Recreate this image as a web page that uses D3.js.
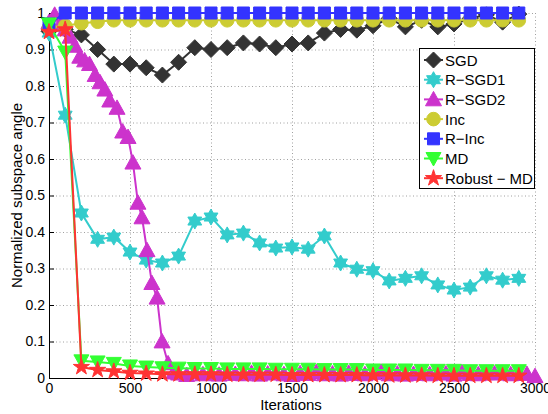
<!DOCTYPE html>
<html>
<head>
<meta charset="utf-8">
<script src="https://cdn.jsdelivr.net/npm/d3@7"></script>
<style>
  body { margin: 0; background: #fff; }
  svg text { font-family: "Liberation Sans", Arial, Helvetica, sans-serif; }
</style>
</head>
<body>
<div class="chart"></div>
<script>
// data
var iters = [0, 100, 200, 300, 400, 500, 600, 700, 800, 900, 1000, 1100, 1200, 1300, 1400,
             1500, 1600, 1700, 1800, 1900, 2000, 2100, 2200, 2300, 2400, 2500, 2600, 2700, 2800, 2900];

var sgd = [0.95, 0.955, 0.94, 0.90, 0.86, 0.86, 0.85, 0.83, 0.865, 0.905, 0.90, 0.905, 0.918, 0.915, 0.905,
           0.915, 0.918, 0.945, 0.955, 0.953, 0.965, 0.985, 0.962, 0.98, 0.962, 0.97, 0.985, 0.995, 0.975, 0.997];

var rsgd1 = [0.945, 0.72, 0.452, 0.38, 0.386, 0.345, 0.323, 0.315, 0.334, 0.43, 0.441, 0.392, 0.397, 0.37, 0.356,
             0.359, 0.353, 0.389, 0.315, 0.298, 0.294, 0.266, 0.273, 0.28, 0.255, 0.241, 0.249, 0.28, 0.268, 0.273];

var inc = [0.96, 0.965, 0.972, 0.976, 0.98, 0.98, 0.98, 0.98, 0.98, 0.98, 0.98, 0.98, 0.98, 0.98, 0.98,
           0.98, 0.98, 0.98, 0.98, 0.98, 0.98, 0.98, 0.98, 0.98, 0.98, 0.98, 0.98, 0.98, 0.98, 0.98];

var rinc = [0.97, 1, 1, 1, 1, 1, 1, 1, 1, 1, 1, 1, 1, 1, 1,
            1, 1, 1, 1, 1, 1, 1, 1, 1, 1, 1, 1, 1, 1, 1];

var md = [0.97, 0.893, 0.047, 0.044, 0.04, 0.033, 0.03, 0.028, 0.027, 0.026, 0.026, 0.025, 0.025, 0.025, 0.024,
          0.024, 0.024, 0.023, 0.023, 0.023, 0.022, 0.022, 0.022, 0.021, 0.021, 0.021, 0.02, 0.02, 0.02, 0.02];

var robustMd = [0.948, 0.955, 0.03, 0.022, 0.018, 0.014, 0.012, 0.01, 0.01, 0.01, 0.01, 0.009, 0.009, 0.009, 0.009,
                0.008, 0.008, 0.008, 0.008, 0.008, 0.007, 0.007, 0.007, 0.007, 0.006, 0.006, 0.006, 0.006, 0.006, 0.006];

// R-SGD2 is sampled more densely
var rsgd2Iters = [0, 35, 70, 100, 130, 160, 190, 220, 250, 285, 315, 345, 375, 420, 455, 488, 518, 549, 574,
                  605, 635, 667, 698, 735, 770,
                  800, 850, 900, 950, 1000, 1050, 1100, 1150, 1200, 1250, 1300, 1350, 1400, 1450, 1500,
                  1550, 1600, 1650, 1700, 1750, 1800, 1850, 1900, 1950, 2000, 2050, 2100, 2150, 2200,
                  2250, 2300, 2350, 2400, 2450, 2500, 2550, 2600, 2650, 2700, 2750, 2800, 2850, 2900,
                  2950, 3000];
var rsgd2 = [0.975, 0.995, 0.97, 0.955, 0.935, 0.91, 0.88, 0.87, 0.86, 0.83, 0.81, 0.79, 0.76, 0.74, 0.675,
             0.66, 0.59, 0.48, 0.44, 0.35, 0.26, 0.22, 0.10, 0.04, 0.015,
             0.012, 0.008, 0.015, 0.01, 0.013, 0.009, 0.016, 0.011, 0.01, 0.014, 0.009, 0.012, 0.015, 0.01, 0.008,
             0.013, 0.011, 0.016, 0.01, 0.012, 0.009, 0.014, 0.011, 0.01, 0.013, 0.017, 0.01, 0.012, 0.009,
             0.011, 0.014, 0.01, 0.013, 0.012, 0.009, 0.015, 0.011, 0.01, 0.013, 0.012, 0.014, 0.01, 0.012,
             0.011, 0.005];

var xTicks = [0, 500, 1000, 1500, 2000, 2500, 3000];
var yTicks = [0, 0.1, 0.2, 0.3, 0.4, 0.5, 0.6, 0.7, 0.8, 0.9, 1];
var seriesNames = ["SGD", "R\u2212SGD1", "R\u2212SGD2", "Inc", "R\u2212Inc", "MD", "Robust \u2212 MD"];

(function() {
    // custom marker shapes, matlab style
    function diamond(r) {
        return { draw: function(c) {
            c.moveTo(0, -r); c.lineTo(r, 0); c.lineTo(0, r); c.lineTo(-r, 0); c.closePath();
        }};
    }
    function square(h) {
        return { draw: function(c) { c.rect(-h, -h, 2 * h, 2 * h); } };
    }
    function circle(r) {
        return { draw: function(c) { c.moveTo(r, 0); c.arc(0, 0, r, 0, 2 * Math.PI); } };
    }
    function triangle(w, dir) {
        return { draw: function(c) {
            c.moveTo(0, -w * dir); c.lineTo(w, 0.8 * w * dir); c.lineTo(-w, 0.8 * w * dir); c.closePath();
        }};
    }
    function star(n, R, ratio) {
        return { draw: function(c) {
            for (var k = 0; k < 2 * n; k++) {
                var a = -Math.PI / 2 + k * Math.PI / n;
                var rr = k % 2 === 0 ? R : R * ratio;
                if (k === 0) c.moveTo(rr * Math.cos(a), rr * Math.sin(a));
                else c.lineTo(rr * Math.cos(a), rr * Math.sin(a));
            }
            c.closePath();
        }};
    }

    var series = [
        {name: seriesNames[0], x: iters, y: sgd, color: "#333333", shape: diamond(8)},
        {name: seriesNames[1], x: iters, y: rsgd1, color: "#33cccc", shape: star(6, 8, 0.577)},
        {name: seriesNames[2], x: rsgd2Iters, y: rsgd2, color: "#cc33cc", shape: triangle(8, 1)},
        {name: seriesNames[3], x: iters, y: inc, color: "#cccc33", shape: circle(6.8)},
        {name: seriesNames[4], x: iters, y: rinc, color: "#3333ff", shape: square(6)},
        {name: seriesNames[5], x: iters, y: md, color: "#33ff33", shape: triangle(7.5, -1)},
        {name: seriesNames[6], x: iters, y: robustMd, color: "#ff3333", shape: star(5, 8.5, 0.382)}
    ];

    var W = 548, H = 414;
    var pLeft = 49, pRight = 535, pTop = 13, pBottom = 378;

    var x = d3.scaleLinear().domain([0, 3000]).range([pLeft, pRight]);
    var y = d3.scaleLinear().domain([0, 1]).range([pBottom, pTop]);

    var svg = d3.select(".chart").append("svg")
        .attr("width", W)
        .attr("height", H);

    // dotted grid
    svg.append("g")
        .attr("transform", "translate(0," + pBottom + ")")
        .call(d3.axisBottom(x).tickValues(xTicks.slice(1)).tickSize(-(pBottom - pTop)).tickFormat(""))
        .call(function(g) { g.select(".domain").remove(); })
        .selectAll("line")
        .attr("stroke", "#a0a0a0")
        .attr("stroke-dasharray", "1,2.5");

    svg.append("g")
        .attr("transform", "translate(" + pLeft + ",0)")
        .call(d3.axisLeft(y).tickValues(yTicks.slice(1)).tickSize(-(pRight - pLeft)).tickFormat(""))
        .call(function(g) { g.select(".domain").remove(); })
        .selectAll("line")
        .attr("stroke", "#a0a0a0")
        .attr("stroke-dasharray", "1,2.5");

    // axes with inward ticks
    var xAxis = svg.append("g")
        .attr("transform", "translate(0," + pBottom + ")")
        .call(d3.axisBottom(x).tickValues(xTicks).tickSizeInner(-5).tickSizeOuter(0).tickPadding(5)
            .tickFormat(d3.format("d")));
    var yAxis = svg.append("g")
        .attr("transform", "translate(" + pLeft + ",0)")
        .call(d3.axisLeft(y).tickValues(yTicks).tickSizeInner(-5).tickSizeOuter(0).tickPadding(4)
            .tickFormat(function(d) { return d === 0 || d === 1 ? d3.format("d")(d) : d3.format(".1f")(d); }));

    [xAxis, yAxis].forEach(function(g) {
        g.selectAll("text").attr("font-size", 14).attr("fill", "#000")
            .attr("font-family", "Liberation Sans, Arial, sans-serif");
        g.select(".domain").attr("stroke", "#000");
        g.selectAll("line").attr("stroke", "#000");
    });

    // axis labels
    svg.append("text")
        .attr("x", 291).attr("y", 410)
        .attr("text-anchor", "middle")
        .attr("font-size", 15)
        .text("Iterations");
    svg.append("text")
        .attr("transform", "translate(22,195.5) rotate(-90)")
        .attr("text-anchor", "middle")
        .attr("font-size", 15)
        .text("Normalized subspace angle");

    // lines and markers, one series at a time
    var line = d3.line()
        .x(function(d) { return x(d[0]); })
        .y(function(d) { return y(d[1]); });

    series.forEach(function(s) {
        var pts = s.x.map(function(v, i) { return [v, s.y[i]]; });
        var g = svg.append("g");
        g.append("path")
            .datum(pts)
            .attr("d", line)
            .attr("fill", "none")
            .attr("stroke", s.color)
            .attr("stroke-width", 2);
        g.selectAll("path.mk")
            .data(pts)
            .enter()
            .append("path")
            .attr("class", "mk")
            .attr("transform", function(d) { return "translate(" + x(d[0]) + "," + y(d[1]) + ")"; })
            .attr("d", d3.symbol().type(s.shape))
            .attr("fill", s.color)
            .attr("stroke", s.color)
            .attr("stroke-width", 1);
    });

    // legend
    var lg = svg.append("g");
    lg.append("rect")
        .attr("x", 419.5).attr("y", 48.5)
        .attr("width", 115).attr("height", 140)
        .attr("fill", "#fff")
        .attr("stroke", "#000")
        .attr("stroke-width", 1);

    series.forEach(function(s, i) {
        var cy = 60 + i * 19.7;
        lg.append("line")
            .attr("x1", 424).attr("x2", 443)
            .attr("y1", cy).attr("y2", cy)
            .attr("stroke", s.color)
            .attr("stroke-width", 2);
        lg.append("path")
            .attr("transform", "translate(433.5," + cy + ")")
            .attr("d", d3.symbol().type(s.shape))
            .attr("fill", s.color)
            .attr("stroke", s.color);
        lg.append("text")
            .attr("x", 445).attr("y", cy + 5.5)
            .attr("font-size", 15)
            .text(s.name);
    });
})();
</script>
</body>
</html>
